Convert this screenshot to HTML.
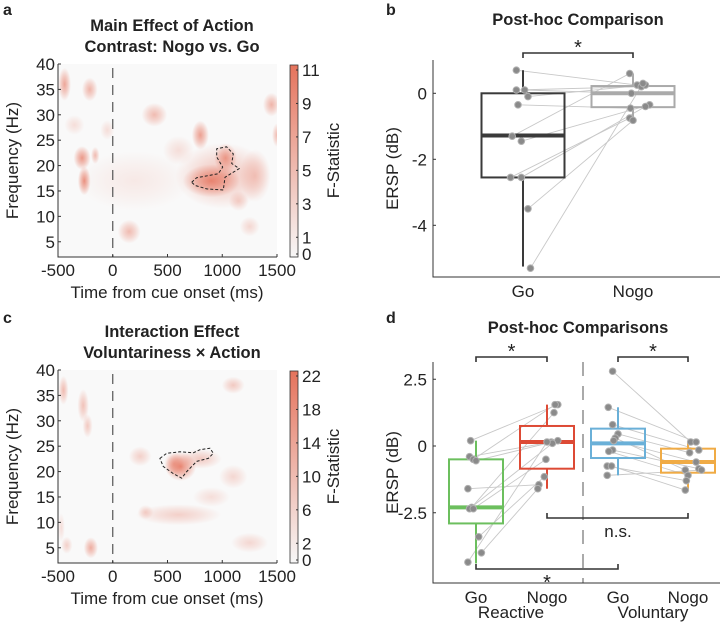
<!DOCTYPE html>
<html><head><meta charset="utf-8"><style>
html,body{margin:0;padding:0;background:#fff}
svg{display:block;font-family:"Liberation Sans",Arial,sans-serif}
</style></head><body>
<svg id="fig" width="725" height="623" viewBox="0 0 725 623">
<defs>
<radialGradient id="blobg"><stop offset="0" stop-color="#e56f58" stop-opacity="1"/><stop offset="0.5" stop-color="#e56f58" stop-opacity="0.55"/><stop offset="1" stop-color="#e56f58" stop-opacity="0"/></radialGradient>
<linearGradient id="cbar" x1="0" y1="1" x2="0" y2="0"><stop offset="0" stop-color="#f7f7f7"/><stop offset="1" stop-color="#e5735c"/></linearGradient>
<clipPath id="clipA"><rect x="58" y="64" width="219" height="193"/></clipPath>
<clipPath id="clipC"><rect x="58" y="370" width="219" height="193"/></clipPath>
</defs>
</svg>
<script>
// ---------- data ----------
const heatXTicks=[-500,0,500,1000,1500];
const heatYTicks=[5,10,15,20,25,30,35,40];
// blobs: time(ms), freq(Hz), intensity, radius time, radius freq
const blobsA_t=[900,1030,1000,800,-440,-210,-280,-260,-160,380,1450,1500,150,200,1150,1300,-350,600,1250,-50];
const blobsA_f=[17,21.5,18,26,36,35,21.5,17,22,30,32,26,7,17,13,18,28,23,8,27];
const blobsA_v=[0.8,0.65,0.4,0.65,0.6,0.5,0.7,0.75,0.45,0.45,0.5,0.45,0.45,0.12,0.3,0.35,0.2,0.2,0.25,0.2];
const blobsA_rt=[200,80,330,60,45,55,60,45,30,90,60,35,80,400,70,110,70,110,70,50];
const blobsA_rf=[2.5,2.2,5,2.2,2.5,1.8,1.8,2.2,1.3,1.8,1.8,1.8,1.8,4.5,1.5,4,1.5,2.2,1.5,1.5];
const contourA_t=[721,766,964,1004,949,949,1040,1101,1086,1156,1101,1025,1010,858,751];
const contourA_f=[16.7,17.6,18.4,19.7,21.7,23.3,23.7,22.3,20.4,19.4,18.7,17.7,15.2,15.4,16.1];
const blobsC_t=[620,560,800,-450,-270,-230,-200,-420,1100,250,600,1100,300,-470,1250,900];
const blobsC_f=[21,21.5,22.5,36,33,29,5,5.5,37,23,11.5,19,12,9,6,15];
const blobsC_v=[0.8,0.5,0.35,0.45,0.4,0.35,0.55,0.3,0.35,0.3,0.3,0.25,0.3,0.2,0.25,0.2];
const blobsC_rt=[110,70,150,35,40,35,50,40,80,80,300,100,55,25,130,130];
const blobsC_rf=[2.2,1.8,1.5,2.2,2.5,1.8,1.6,1.3,1.3,1.5,1.6,1.8,1.1,2.2,1.5,1.5];
const contourC_t=[431,493,614,736,797,888,918,873,767,675,630,553,462];
const contourC_f=[22.6,23.6,23.9,23.7,24.3,24.6,23.6,22.6,22,20,18.7,19.6,21];
const cbarTicksA=[0,1,3,5,7,9,11];
const cbarTicksC=[0,2,6,10,14,18,22];

const bCats=["Go","Nogo"];
const bGo=[0.7,0.1,0.1,-0.1,-0.35,-1.3,-1.45,-2.55,-2.55,-3.5,-5.3];
const bNogo=[0.25,0.2,0.0,0.25,-0.45,0.6,-0.35,-0.75,-0.4,-0.82,0.3];
const bJitter=[-0.08,-0.08,0.02,0.06,-0.06,-0.13,-0.02,-0.15,-0.02,0.06,0.09];
const bJitterN=[0.05,0.1,-0.02,0.15,-0.03,-0.04,0.2,-0.04,0.15,0.0,0.12];
const bBoxTop=[0,0.22],bBoxBot=[-2.55,-0.42],bMed=[-1.28,0.0],bWhiskHi=[0.7,0.6],bWhiskLo=[-5.25,-0.8];
const bYTicks=[0,-2,-4];

const dCats=["Go","Nogo","Go","Nogo"];
const dRG=[0.2,-0.4,-0.5,-0.55,-1.6,-2.3,-2.35,-2.35,-3.4,-4.0,-4.35];
const dRN=[1.55,0.15,1.55,0.2,-1.45,1.25,0.1,-0.5,-1.15,-1.6,0.15];
const dVG=[2.8,1.45,0.8,0.45,0.3,0.2,-0.15,-0.2,-0.75,-0.75,-1.1];
const dVN=[0.15,0.15,-0.15,-0.25,-0.9,-0.6,-0.85,-1.1,-1.3,-1.65,-0.9];
const dJit=[[-0.1,-0.12,-0.05,0.0,-0.15,-0.08,-0.12,-0.05,0.05,0.1,-0.15],
 [0.2,0.08,0.15,0.2,-0.15,0.13,0.1,-0.02,-0.05,-0.17,0.0],
 [-0.1,-0.18,-0.1,0.0,-0.05,-0.08,-0.1,-0.17,-0.2,-0.12,-0.2],
 [0.05,0.15,0.2,0.03,-0.05,0.15,0.2,0.0,-0.03,-0.05,0.25]];
const dBoxTop=[-0.5,0.75,0.65,-0.1],dBoxBot=[-2.9,-0.85,-0.45,-1.0],dMed=[-2.3,0.15,0.1,-0.6];
const dWhiskHi=[0.2,1.55,1.45,0.15],dWhiskLo=[-4.4,-1.6,-1.1,-1.65];
const dColors=["#6cbf5e","#dd4a35","#6ab0d8","#f0ab45"];
const dYTicks=[2.5,0,-2.5];

// ---------- helpers ----------
const NS="http://www.w3.org/2000/svg";
const svg=document.getElementById('fig');
const FS=17;
function el(tag,attrs,parent,text){const e=document.createElementNS(NS,tag);for(const k in attrs)e.setAttribute(k,attrs[k]);if(text!==undefined)e.textContent=text;(parent||svg).appendChild(e);return e;}
function txt(x,y,s,size,anchor,name,weight,rot){
 const t=el('text',{x:x,y:y,'font-size':size,'text-anchor':anchor||'middle',fill:'#222','font-weight':weight||'normal'},svg,s);
 if(rot)t.setAttribute('transform','rotate(-90 '+x+' '+y+')');
 
 
 return t;}

// ---------- heatmap panels ----------
function heat(cfg){
 const X=t=>cfg.x0+(t-(-500))/2000*(cfg.x1-cfg.x0);
 const Y=f=>cfg.y0+(40-f)/(40-2)*(cfg.y1-cfg.y0);
 const g=el('g',{'clip-path':'url(#'+cfg.clip+')'});
 
 
 el('rect',{x:cfg.x0,y:cfg.y0,width:cfg.x1-cfg.x0,height:cfg.y1-cfg.y0,fill:'#f9f9f9'},g);
 for(let i=0;i<cfg.bt.length;i++){
  const e=el('ellipse',{cx:X(cfg.bt[i]),cy:Y(cfg.bf[i]),rx:cfg.brt[i]/2000*(cfg.x1-cfg.x0)*1.3,ry:cfg.brf[i]/38*(cfg.y1-cfg.y0)*1.3,fill:'url(#blobg)',opacity:cfg.bv[i]},g);
  
  
 }
 let d='';for(let i=0;i<cfg.ct.length;i++)d+=(i?'L':'M')+X(cfg.ct[i]).toFixed(1)+','+Y(cfg.cf[i]).toFixed(1);
 const c=el('path',{d:d+'Z',fill:'none',stroke:'#222','stroke-width':1,'stroke-dasharray':'3 2','stroke-linejoin':'round'});
 
 
 const z=el('line',{x1:X(0),x2:X(0),y1:cfg.y0+4,y2:cfg.y1,stroke:'#555','stroke-width':1.2,'stroke-dasharray':'10 7'});
 
 
 const ax=el('path',{d:'M'+cfg.x0+','+cfg.y0+'V'+cfg.y1+'H'+cfg.x1,fill:'none',stroke:'#333','stroke-width':1});
 
 
 heatXTicks.forEach(t=>{el('line',{x1:X(t),x2:X(t),y1:cfg.y1,y2:cfg.y1-3,stroke:'#333'});txt(X(t),cfg.y1+19,String(t),FS,'middle','x-tick-label');});
 heatYTicks.forEach(f=>{el('line',{x1:cfg.x0,x2:cfg.x0+3,y1:Y(f),y2:Y(f),stroke:'#333'});txt(cfg.x0-3,Y(f)+6,String(f),FS,'end','y-tick-label');});
 txt(167,cfg.y1+41,'Time from cue onset (ms)',FS,'middle','x-axis-title');
 txt(18,(cfg.y0+cfg.y1)/2,'Frequency (Hz)',FS,'middle','y-axis-title','normal',true);
 txt(172,cfg.titleY,cfg.t1,16.5,'middle','chart-title-line1','bold');
 txt(172,cfg.titleY+21,cfg.t2,16.5,'middle','chart-title-line2','bold');
 const cb=el('rect',{x:290,y:cfg.y0+1,width:8,height:cfg.y1-cfg.y0-1,fill:'url(#cbar)',stroke:'#333','stroke-width':0.8});
 
 
 const CY=v=>cfg.y1-3-v/cfg.cmax*(cfg.y1-cfg.y0-9);
 cfg.cticks.forEach(v=>{el('line',{x1:296,x2:298,y1:CY(v),y2:CY(v),stroke:'#333'});txt(302,CY(v)+6,String(v),FS,'start','colorbar-tick-label');});
 txt(339,(cfg.y0+cfg.y1)/2,'F-Statistic',FS,'middle','colorbar-title','normal',true);
}
heat({id:'panel-a',x0:58,x1:277,y0:64,y1:257,clip:'clipA',bt:blobsA_t,bf:blobsA_f,bv:blobsA_v,brt:blobsA_rt,brf:blobsA_rf,ct:contourA_t,cf:contourA_f,cticks:cbarTicksA,cmax:11,titleY:31,t1:'Main Effect of Action',t2:'Contrast: Nogo vs. Go'});
heat({id:'panel-c',x0:58,x1:277,y0:370,y1:563,clip:'clipC',bt:blobsC_t,bf:blobsC_f,bv:blobsC_v,brt:blobsC_rt,brf:blobsC_rf,ct:contourC_t,cf:contourC_f,cticks:cbarTicksC,cmax:22,titleY:337,t1:'Interaction Effect',t2:'Voluntariness × Action'});

// ---------- box panels ----------
function boxPanel(cfg){
 const Y=v=>cfg.yAt0+(-v)*cfg.ppu;
 const X=i=>cfg.xs[i];
 const ax=el('path',{d:'M433,'+cfg.top+'V'+cfg.bot+'H720',fill:'none',stroke:'#333','stroke-width':1});
 
 
 cfg.yticks.forEach(v=>{el('line',{x1:433,x2:436,y1:Y(v),y2:Y(v),stroke:'#333'});txt(427,Y(v)+6,String(v),FS,'end','y-tick-label');});
 txt(398,(cfg.top+cfg.bot)/2,'ERSP (dB)',FS,'middle','y-axis-title','normal',true);
 const n=cfg.vals.length;
 for(let k=0;k+1<n;k+=2){
  for(let j=0;j<cfg.vals[k].length;j++){
   const l=el('line',{x1:X(k)+cfg.jit[k][j]*cfg.bw,y1:Y(cfg.vals[k][j]),x2:X(k+1)+cfg.jit[k+1][j]*cfg.bw,y2:Y(cfg.vals[k+1][j]),stroke:'#c8c8c8','stroke-width':0.9});
   
   
  }
 }
 for(let i=0;i<n;i++){
  const c=cfg.colors[i],hw=cfg.bw/2;
  const g=el('g',{});
  
  
  el('line',{x1:X(i),x2:X(i),y1:Y(cfg.whi[i]),y2:Y(cfg.top_[i]),stroke:c,'stroke-width':2},g);
  el('line',{x1:X(i),x2:X(i),y1:Y(cfg.bot_[i]),y2:Y(cfg.wlo[i]),stroke:c,'stroke-width':2},g);
  el('rect',{x:X(i)-hw,y:Y(cfg.top_[i]),width:cfg.bw,height:Y(cfg.bot_[i])-Y(cfg.top_[i]),fill:'none',stroke:c,'stroke-width':2},g);
  el('line',{x1:X(i)-hw,x2:X(i)+hw,y1:Y(cfg.med[i]),y2:Y(cfg.med[i]),stroke:c,'stroke-width':4},g);
  cfg.vals[i].forEach((v,j)=>{
   const p=el('circle',{cx:X(i)+cfg.jit[i][j]*cfg.bw,cy:Y(v),r:3.3,fill:'#8a8a8a',stroke:'#b0b0b0','stroke-width':1});
   
   
  });
  txt(X(i),cfg.bot+20,cfg.cats[i],FS,'middle','x-tick-label');
 }
}
function bracket(x1,x2,y,dir,label,ly,lsize,lx){
 const p=el('path',{d:'M'+x1+','+(y+dir*5)+'V'+y+'H'+x2+'V'+(y+dir*5),fill:'none',stroke:'#333','stroke-width':1.6});
 
 
 txt(lx!==undefined?lx:(x1+x2)/2,ly,label,lsize||20,'middle','significance-label');
}
boxPanel({yAt0:93.3,ppu:33,top:60,bot:277,xs:[523,633],bw:83,yticks:bYTicks,cats:bCats,names:['go','nogo'],
 vals:[bGo,bNogo],jit:[bJitter,bJitterN],colors:['#3a3a3a','#aaaaaa'],top_:bBoxTop,bot_:bBoxBot,med:bMed,whi:bWhiskHi,wlo:bWhiskLo});
txt(578,25,'Post-hoc Comparison',16.5,'middle','chart-title','bold');
bracket(523,633,53,1,'*',54,20);

const dv=el('line',{x1:583,x2:583,y1:362,y2:583,stroke:'#aaa','stroke-width':2,'stroke-dasharray':'14 10'});


boxPanel({yAt0:446,ppu:26.7,top:362,bot:583,xs:[476,547,618,688],bw:54,yticks:dYTicks,cats:dCats,names:['reactive-go','reactive-nogo','voluntary-go','voluntary-nogo'],
 vals:[dRG,dRN,dVG,dVN],jit:dJit,colors:dColors,top_:dBoxTop,bot_:dBoxBot,med:dMed,whi:dWhiskHi,wlo:dWhiskLo});
txt(578,333,'Post-hoc Comparisons',16.5,'middle','chart-title','bold');
bracket(476,547,357,1,'*',358,20);
bracket(618,688,357,1,'*',358,20);
bracket(547,688,518,-1,'n.s.',537,FS,618);
bracket(476,618,569,-1,'*',589,20,547);
txt(511,618,'Reactive',FS,'middle','group-label');
txt(653,618,'Voluntary',FS,'middle','group-label');

txt(3,15,'a',16,'start','panel-label-a','bold');
txt(386,15,'b',16,'start','panel-label-b','bold');
txt(3,323,'c',16,'start','panel-label-c','bold');
txt(386,323,'d',16,'start','panel-label-d','bold');
</script>
</body></html>
